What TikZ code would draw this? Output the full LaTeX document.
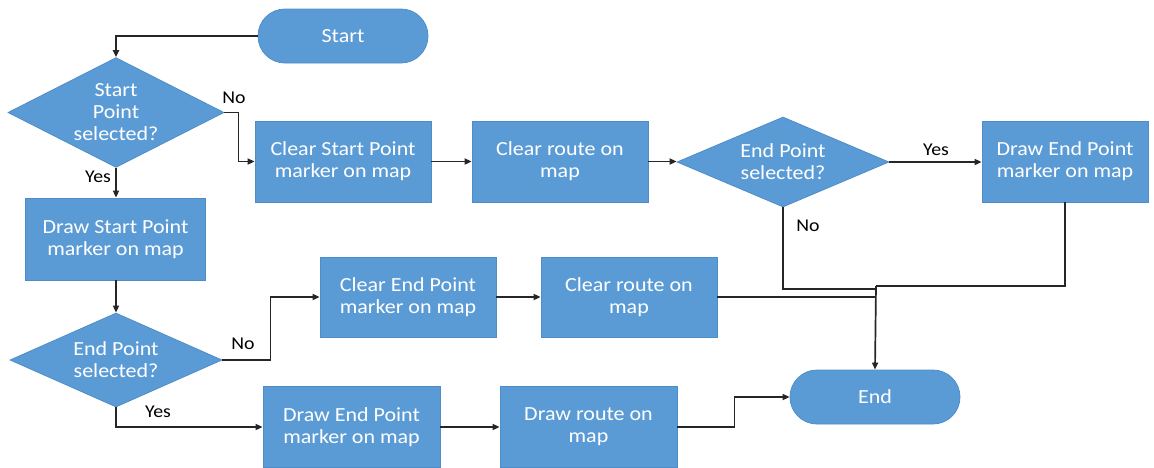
\documentclass[tikz,border=0pt]{standalone}
\usepackage{fontspec}
\setmainfont{Carlito}[FakeStretch=1.1]
\usetikzlibrary{shapes.geometric,arrows.meta}

\definecolor{boxblue}{HTML}{5B9BD5}
\definecolor{boxedge}{HTML}{4F8DC8}
\definecolor{linegray}{HTML}{262626}

\newcommand{\boxfont}{\fontsize{20}{22}\selectfont}
\newcommand{\lblfont}{\fontsize{18}{20}\selectfont}

\tikzset{
  shapebase/.style={fill=boxblue, draw=boxedge, line width=0.8pt, text=white,
    align=center, font=\boxfont},
  procbox/.style={shapebase, rectangle, minimum width=176pt, minimum height=81pt},
  decision/.style={shapebase, diamond, inner sep=-8pt},
  terminal/.style={shapebase, rectangle, rounded corners=27pt,
    minimum width=170pt, minimum height=54pt},
  wire/.style={draw=linegray, line width=1.7pt},
  flow/.style={wire, -{Triangle[length=7pt,width=6pt]}},
  lbl/.style={font=\lblfont, text=black, inner sep=0pt},
}

\begin{document}
\begin{tikzpicture}[x=1pt, y=-1pt]
  \useasboundingbox (0,0) rectangle (1154,467);

  % terminals
  \node[terminal] (start) at (343,36) {Start};
  \node[terminal] (end) at (875,397) {End};

  % top row
  \node[decision, minimum width=216pt, minimum height=101pt] (d1) at (116,112.5)
    {Start\\Point\\selected?};
  \node[procbox] (cs) at (343,161.5) {Clear Start Point\\marker on map};
  \node[procbox] (cr1) at (560,161.5) {Clear route on\\map};
  \node[decision, minimum width=212pt, minimum height=90pt] (d2) at (783,162)
    {End Point\\selected?};
  \node[procbox, minimum width=166pt] (de1) at (1065,161.5) {Draw End Point\\marker on map};

  % left column and middle row
  \node[procbox, minimum width=180pt, minimum height=82pt] (ds) at (115.5,239)
    {Draw Start Point\\marker on map};
  \node[procbox, minimum height=80pt] (ce) at (408,297) {Clear End Point\\marker on map};
  \node[procbox, minimum height=80pt] (cr2) at (629,297) {Clear route on\\map};
  \node[decision, minimum width=212pt, minimum height=94pt] (d3) at (116,360)
    {End Point\\selected?};

  % bottom row
  \node[procbox, minimum width=177pt] (de2) at (351.5,427) {Draw End Point\\marker on map};
  \node[procbox, minimum width=177pt] (dr) at (588.5,427) {Draw route on\\map};

  % branch labels
  \node[lbl] (no1) at (234,98) {No};
  \node[lbl] (yes1) at (98,177) {Yes};
  \node[lbl] (yes2) at (936,150) {Yes};
  \node[lbl] (no2) at (808,226) {No};
  \node[lbl] (no3) at (243,344) {No};
  \node[lbl] (yes3) at (158,412) {Yes};

  % junction points above End
  \coordinate (j1) at (876,289);
  \coordinate (j2) at (876,286);

  % connectors
  \draw[flow] (start.west) -| (d1.north);
  \draw[flow] (d1.east) -- ++(14,0) |- (cs.west);
  \draw[flow] (d1.south) -- (d1.south |- ds.north);
  \draw[flow] (cs.east) -- (cr1.west);
  \draw[flow] (cr1.east) -- (cr1.east -| d2.west);
  \draw[flow] (d2.east) -- (d2.east -| de1.west);
  \draw[wire] (d2.south) |- (j1);
  \draw[wire] (de1.south) |- (j2);
  \draw[wire] (cr2.east) -- (cr2.east -| end.north);
  \draw[flow] (j2) -- (end.north);

  \draw[flow] (d3.north |- ds.south) -- (d3.north);
  \draw[flow] (d3.east) -- ++(48,0) |- (ce.west);
  \draw[flow] (d3.south) |- (de2.west);
  \draw[flow] (ce.east) -- (cr2.west);
  \draw[flow] (de2.east) -- (dr.west);
  \draw[flow] (dr.east) -- ++(57,0) |- (end.west);
\end{tikzpicture}
\end{document}
